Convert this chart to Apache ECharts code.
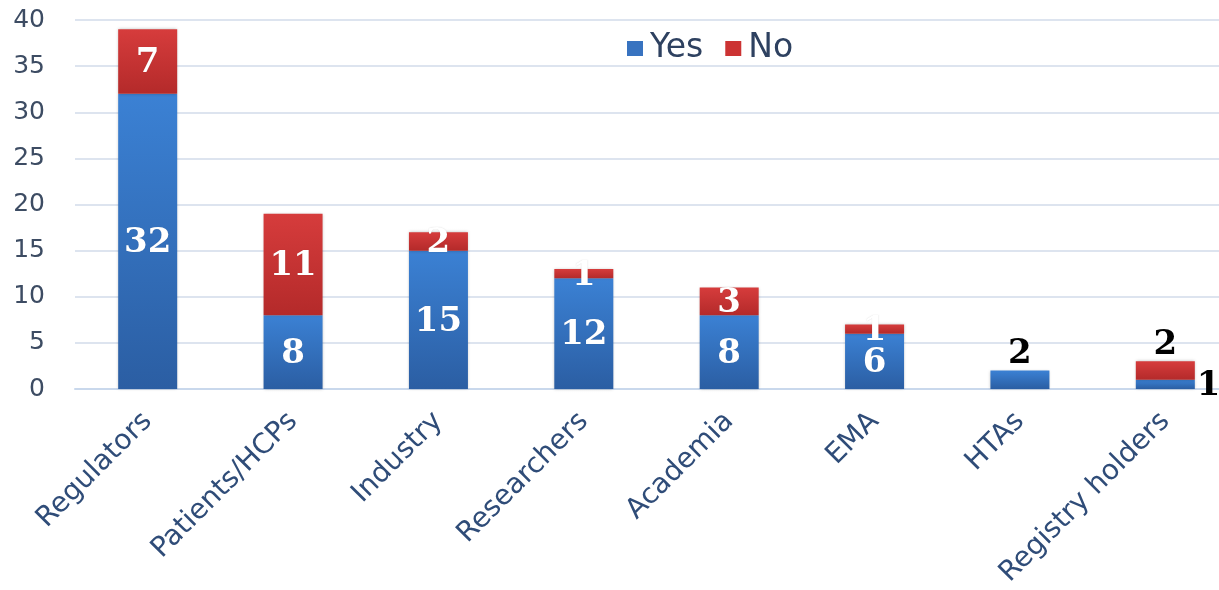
<!DOCTYPE html>
<html>
<head>
<meta charset="utf-8">
<script src="https://cdn.jsdelivr.net/npm/echarts@6/dist/echarts.min.js"></script>
<style>
  html, body { margin: 0; padding: 0; background: #ffffff; overflow: hidden; }
  #chart { width: 1219px; height: 590px; }
</style>
</head>
<body>
<div id="chart"></div>
<script>
// Stakeholder groups and their Yes / No answer counts
const categories = ['Regulators', 'Patients/HCPs', 'Industry', 'Researchers', 'Academia', 'EMA', 'HTAs', 'Registry holders'];
const yesValues = [32, 8, 15, 12, 8, 6, 2, 1];
const noValues = [7, 11, 2, 1, 3, 1, 0, 2];
const yTicks = [0, 5, 10, 15, 20, 25, 30, 35, 40];

const chart = echarts.init(document.getElementById('chart'), null, { renderer: 'canvas' });

const blueFill = new echarts.graphic.LinearGradient(0, 0, 0, 1, [
  { offset: 0, color: '#3b81d4' },
  { offset: 1, color: '#2b5ea3' }
]);
const redFill = new echarts.graphic.LinearGradient(0, 0, 0, 1, [
  { offset: 0, color: '#d63c3c' },
  { offset: 1, color: '#b42a2a' }
]);

const valueLabel = {
  show: true,
  position: 'inside',
  offset: [0, 2],
  color: '#ffffff',
  fontFamily: 'DejaVu Serif',
  fontWeight: 'bold',
  fontSize: 34,
  textShadowColor: 'rgba(0,0,0,0.18)',
  textShadowBlur: 1
};
const outsideLabel = {
  color: '#000000',
  textShadowBlur: 0,
  textShadowColor: 'transparent'
};

// Small segments that cannot hold their number get it written in black beside the bar
const yesData = yesValues.map((v, i) => {
  const cat = categories[i];
  if (cat === 'HTAs') return { value: v, label: Object.assign({ position: 'top', distance: 2, offset: [0, 3] }, outsideLabel) };
  if (cat === 'Registry holders') return { value: v, label: Object.assign({ position: 'right', distance: 2, offset: [0, 2] }, outsideLabel) };
  return v;
});
const noData = noValues.map((v, i) => {
  const cat = categories[i];
  if (v === 0) return { value: v, label: { show: false } };
  if (cat === 'Registry holders') return { value: v, label: Object.assign({ position: 'top', distance: 2, offset: [0, 3] }, outsideLabel) };
  return v;
});

const option = {
  animation: false,
  backgroundColor: '#ffffff',
  legend: {
    left: 622,
    top: 27,
    icon: 'rect',
    itemWidth: 16,
    itemHeight: 15,
    itemGap: 22,
    textStyle: {
      fontFamily: 'DejaVu Sans',
      fontSize: 33,
      color: '#2e4160',
      padding: [0, 0, 0, 2]
    },
    data: [
      { name: 'Yes', itemStyle: { color: '#3873c0', shadowBlur: 0 } },
      { name: 'No', itemStyle: { color: '#cc3333', shadowBlur: 0 } }
    ]
  },
  grid: {
    left: 75,
    top: 20,
    width: 1163,
    height: 369,
    containLabel: false,
    outerBoundsMode: 'none'
  },
  xAxis: {
    type: 'category',
    data: categories,
    axisLine: { show: true, lineStyle: { color: '#c9d8ec', width: 2 } },
    axisTick: { show: false },
    axisLabel: {
      rotate: 45,
      margin: 28,
      interval: 0,
      fontFamily: 'DejaVu Sans',
      fontSize: 28,
      color: '#2f4c78'
    }
  },
  yAxis: {
    type: 'value',
    min: yTicks[0],
    max: yTicks[yTicks.length - 1],
    interval: yTicks[1] - yTicks[0],
    axisLine: { show: false },
    axisTick: { show: false },
    splitLine: { lineStyle: { color: '#dde4ef', width: 2 } },
    axisLabel: {
      margin: 30,
      fontFamily: 'DejaVu Sans',
      fontSize: 25,
      color: '#3d4c63'
    }
  },
  series: [
    {
      name: 'Yes',
      type: 'bar',
      stack: 'total',
      barWidth: 59,
      data: yesData,
      itemStyle: {
        color: blueFill,
        shadowColor: 'rgba(0,0,0,0.25)',
        shadowBlur: 3
      },
      label: valueLabel
    },
    {
      name: 'No',
      type: 'bar',
      stack: 'total',
      barWidth: 59,
      data: noData,
      itemStyle: {
        color: redFill,
        shadowColor: 'rgba(0,0,0,0.25)',
        shadowBlur: 3
      },
      label: valueLabel
    }
  ]
};

chart.setOption(option);
</script>
</body>
</html>
